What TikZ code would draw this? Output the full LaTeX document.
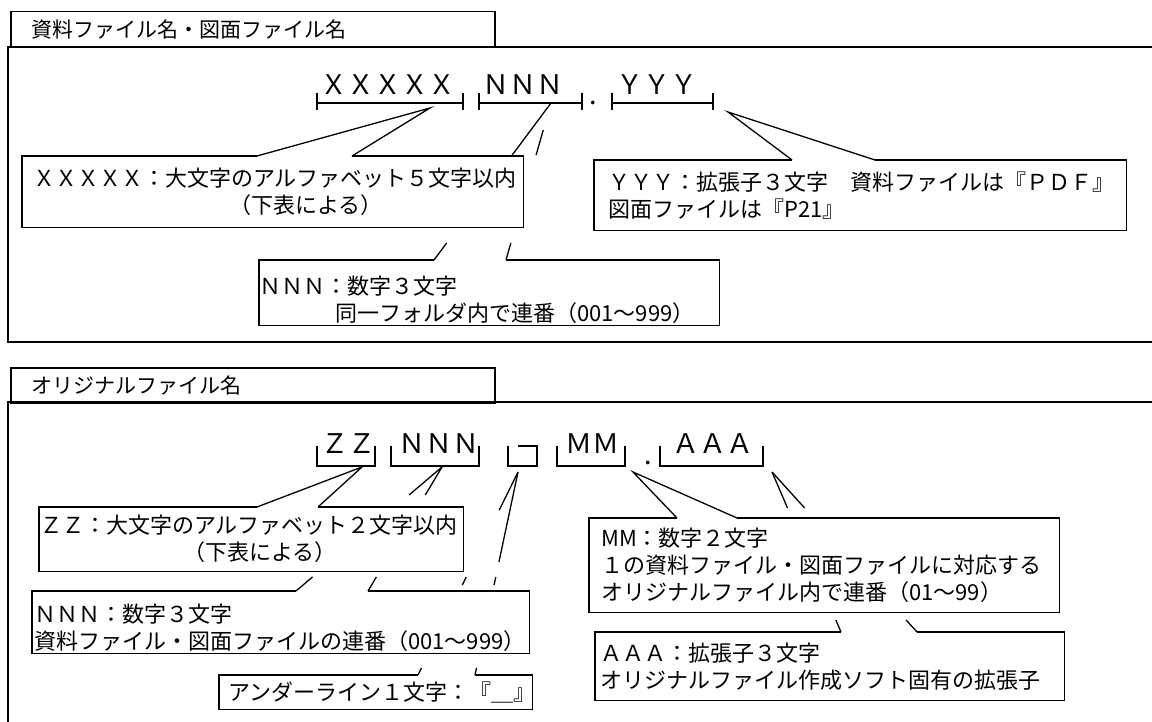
\documentclass[tikz,border=0pt]{standalone}
\usepackage{fontspec}
\setmainfont{Noto Sans CJK JP}
\newcommand{\boxfont}{\fontsize{22}{27}\selectfont}
\newcommand{\rowfont}{\fontsize{27}{32}\selectfont}

\begin{document}
\begin{tikzpicture}[x=1pt, y=-1pt,
      framel/.style={line width=1.5pt},
      tabbox/.style={draw, line width=1.5pt, anchor=north west, minimum width=484pt,
                     text width=442pt, inner xsep=21pt, inner ysep=0pt, align=left,
                     font=\fontsize{21}{25}\selectfont},
      cbox/.style={fill=white, anchor=north west, inner ysep=0pt, align=left, font=\boxfont},
      bline/.style={line width=1.7pt},
      pline/.style={line width=1.3pt},
      brk/.style={line width=1.3pt},
      lbl/.style={inner sep=0pt, anchor=base west, font=\rowfont}]
  \useasboundingbox (0,0) rectangle (1152,722);

  % 資料ファイル名・図面ファイル名
  \node[tabbox, minimum height=36pt] (tab1) at (10,11) {資料ファイル名・図面ファイル名};
  \draw[framel] (1160,47) -- (8,47) -- (8,342) -- (1160,342);
  \node[lbl] (labX) at (320,95) {ＸＸＸＸＸ};
  \node[lbl] (labN) at (482,95) {ＮＮＮ};
  \node[inner sep=0pt, font=\rowfont] (dot1) at (593,103) {.};
  \node[lbl] (labY) at (616,95) {ＹＹＹ};
  \draw[brk] (317,93) -- (317,110) (317,103) -- (463,103) (463,93) -- (463,110);
  \draw[brk] (479,93) -- (479,110) (479,103) -- (582,103) (582,93) -- (582,110);
  \draw[brk] (612,93) -- (612,110) (713,93) -- (713,110);
  \draw[line width=2.2pt] (612,103) -- (713,103);

  \coordinate (tipX) at (430,108); \coordinate (bX1) at (257,156); \coordinate (bX2) at (352,156);
  \coordinate (tipY) at (728,112); \coordinate (bY1) at (792,160); \coordinate (bY2) at (875,160);
  \coordinate (tipN) at (551,103); \coordinate (bN1) at (434,260); \coordinate (bN2) at (506,260);

  \node[cbox, minimum height=71pt, text width=479pt, inner xsep=11pt] (boxX) at (22,156)
       {ＸＸＸＸＸ：大文字のアルファベット５文字以内\\\hspace*{196pt}（下表による）};
  \draw[bline] (bX1) -- (boxX.north west) |- (boxX.south east) -- (boxX.north east) -- (bX2);
  \draw[pline] (bX1) -- (tipX) -- (bX2);

  \node[cbox, minimum height=70pt, text width=504pt, inner xsep=14pt] (boxY) at (594,160)
       {ＹＹＹ：拡張子３文字　資料ファイルは『ＰＤＦ』\\図面ファイルは『P21』};
  \draw[bline] (bY1) -- (boxY.north west) |- (boxY.south east) -- (boxY.north east) -- (bY2);
  \draw[pline] (bY1) -- (tipY) -- (bY2);

  \node[cbox, minimum height=65pt, text width=460pt, inner xsep=0pt] (boxN) at (259,260)
       {\rule{0pt}{32pt}ＮＮＮ：数字３文字\\\hspace*{76pt}同一フォルダ内で連番（001～999）};
  \draw[bline] (bN1) -- (boxN.north west) |- (boxN.south east) -- (boxN.north east) -- (bN2);
  \draw[pline, dash pattern=on 66.1pt off 108.5pt on 30pt] (tipN) -- (bN1);
  \draw[pline, dash pattern=on 17.7pt off 91.5pt on 26pt off 40pt] (bN2) -- (tipN);

  % オリジナルファイル名
  \node[tabbox, minimum height=35pt] (tab2) at (10,367) {オリジナルファイル名};
  \draw[framel] (1160,402) -- (8,402) -- (8,730);
  \node[lbl] (labZ) at (321,453) {ＺＺ};
  \node[lbl] (labS) at (398,453) {ＮＮＮ};
  \node[lbl] (labM) at (565,453) {ＭＭ};
  \node[inner sep=0pt, font=\rowfont] (dot2) at (648,463) {.};
  \node[lbl] (labA) at (672,453) {ＡＡＡ};
  \draw[brk] (317,446) |- (375,466) -- (375,446);
  \draw[brk] (391,446) |- (479,466) -- (479,446);
  \draw[brk] (508,446) |- (537,466) -- (537,446) -- (518,446);
  \draw[brk] (557,446) |- (625,466) -- (625,446);
  \draw[brk] (660,446) |- (763,466) -- (763,446);

  \coordinate (tipZ) at (362,467); \coordinate (bZ1) at (257,507); \coordinate (bZ2) at (318,507);
  \coordinate (tipS) at (442,467); \coordinate (bS1) at (296,591); \coordinate (bS2) at (368,591);
  \coordinate (tipU) at (518,472); \coordinate (bU1) at (418,675); \coordinate (bU2) at (475,675);
  \coordinate (tipM) at (633,472); \coordinate (bM1) at (677,518); \coordinate (bM2) at (737,518);
  \coordinate (tipA) at (772,472); \coordinate (bA1) at (841,632); \coordinate (bA2) at (917,632);

  \node[cbox, minimum height=64pt, text width=422pt, inner xsep=1pt] (boxZ) at (39,507)
       {ＺＺ：大文字のアルファベット２文字以内\\\hspace*{143pt}（下表による）};
  \draw[bline] (bZ1) -- (boxZ.north west) |- (boxZ.south east) -- (boxZ.north east) -- (bZ2);
  \draw[pline] (bZ1) -- (tipZ) -- (bZ2);

  \node[cbox, minimum height=62pt, text width=493pt, inner xsep=2pt] (boxS) at (32,591)
       {\rule{0pt}{29pt}ＮＮＮ：数字３文字\\資料ファイル・図面ファイルの連番（001～999）};
  \draw[bline] (bS1) -- (boxS.north west) |- (boxS.south east) -- (boxS.north east) -- (bS2);
  \draw[pline, dash pattern=on 43.2pt off 126.7pt on 30pt] (tipS) -- (bS1);
  \draw[pline, dash pattern=on 32.6pt off 95.5pt on 20pt] (tipS) -- (bS2);

  \node[cbox, minimum height=34pt, text width=313pt, inner xsep=0pt] (boxU) at (219,675)
       {\hspace*{9pt}アンダーライン１文字：『＿』};
  \draw[bline] (bU1) -- (boxU.north west) |- (boxU.south east) -- (boxU.north east) -- (bU2);
  \draw[pline, dash pattern=on 42.4pt off 74.7pt on 8.9pt off 92.5pt on 12pt] (tipU) -- (bU1);
  \draw[pline, dash pattern=on 92pt off 15.3pt on 8.2pt off 84.8pt on 12pt] (tipU) -- (bU2);

  \node[cbox, minimum height=94pt, text width=446pt, inner xsep=12pt] (boxM) at (589,518)
       {MM：数字２文字\\１の資料ファイル・図面ファイルに対応する\\オリジナルファイル内で連番（01～99）};
  \draw[bline] (bM1) -- (boxM.north west) |- (boxM.south east) -- (boxM.north east) -- (bM2);
  \draw[pline] (bM1) -- (tipM) -- (bM2);

  \node[cbox, minimum height=68pt, text width=459pt, inner xsep=5pt] (boxA) at (595,632)
       {ＡＡＡ：拡張子３文字\\オリジナルファイル作成ソフト固有の拡張子};
  \draw[bline] (bA1) -- (boxA.north west) |- (boxA.south east) -- (boxA.north east) -- (bA2);
  \draw[pline, dash pattern=on 39.2pt off 122pt on 20pt] (tipA) -- (bA1);
  \draw[pline, dash pattern=on 48.6pt off 151.2pt on 20pt] (tipA) -- (bA2);
\end{tikzpicture}
\end{document}
